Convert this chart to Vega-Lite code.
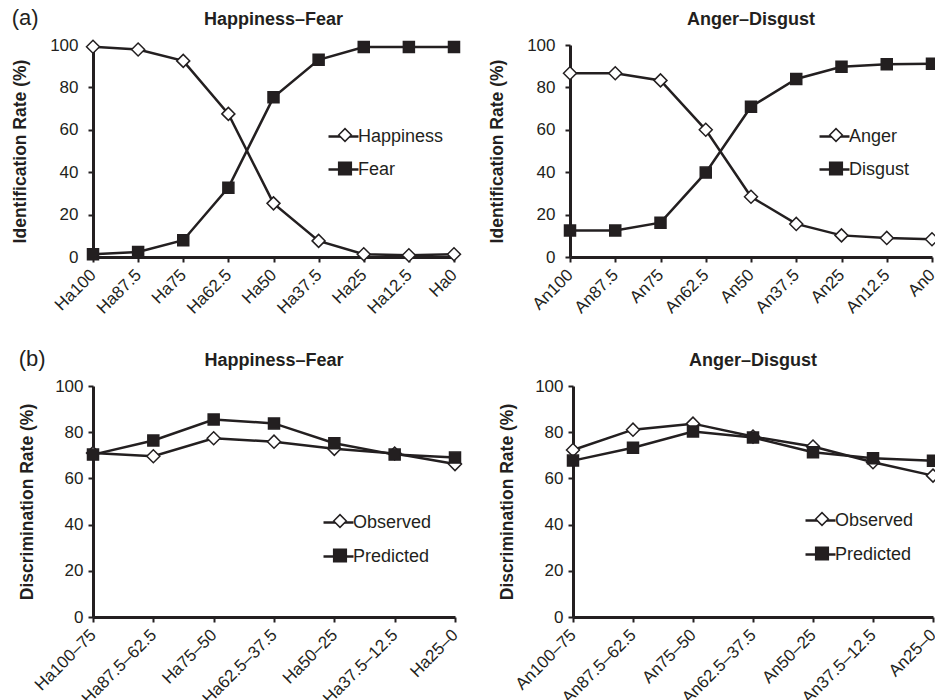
{
  "$schema": "https://vega.github.io/schema/vega-lite/v6.json",
  "background": "white",
  "padding": {"left": 11, "top": 7, "right": 0, "bottom": 0},
  "config": {
    "font": "Liberation Sans",
    "view": {"stroke": null},
    "title": {"font": "Liberation Sans", "fontSize": 18, "fontWeight": "bold", "color": "#231f20", "anchor": "middle", "baseline": "alphabetic", "offset": 7},
    "axis": {
      "grid": false,
      "domainColor": "#231f20", "domainWidth": 3,
      "tickColor": "#231f20", "tickWidth": 2, "tickSize": 5,
      "labelFont": "Liberation Sans", "labelFontSize": 17, "labelColor": "#231f20",
      "titleFont": "Liberation Sans", "titleFontSize": 17.5, "titleFontWeight": "bold", "titleColor": "#231f20"
    },
    "axisX": {"labelAngle": -45, "labelAlign": "right", "labelBaseline": "middle", "labelPadding": 10, "title": null},
    "axisY": {"values": [0, 20, 40, 60, 80, 100], "labelPadding": 10, "titlePadding": 20},
    "legend": {"labelFont": "Liberation Sans", "labelFontSize": 18, "labelColor": "#231f20", "padding": 0, "orient": "none", "title": null, "labelOffset": -2},
    "line": {"color": "#231f20", "strokeWidth": 2.5},
    "point": {"stroke": "#231f20", "strokeWidth": 1.5, "opacity": 1}
  },
  "datasets": {
    "hf": [
      {"cat": "Ha100", "series": "Happiness", "value": 99.2},
      {"cat": "Ha87.5", "series": "Happiness", "value": 97.9},
      {"cat": "Ha75", "series": "Happiness", "value": 92.5},
      {"cat": "Ha62.5", "series": "Happiness", "value": 67.5},
      {"cat": "Ha50", "series": "Happiness", "value": 25.3},
      {"cat": "Ha37.5", "series": "Happiness", "value": 7.6},
      {"cat": "Ha25", "series": "Happiness", "value": 1.3},
      {"cat": "Ha12.5", "series": "Happiness", "value": 0.8},
      {"cat": "Ha0", "series": "Happiness", "value": 1.3},
      {"cat": "Ha100", "series": "Fear", "value": 1.3},
      {"cat": "Ha87.5", "series": "Fear", "value": 2.4},
      {"cat": "Ha75", "series": "Fear", "value": 7.9},
      {"cat": "Ha62.5", "series": "Fear", "value": 32.7},
      {"cat": "Ha50", "series": "Fear", "value": 75.3},
      {"cat": "Ha37.5", "series": "Fear", "value": 93},
      {"cat": "Ha25", "series": "Fear", "value": 99},
      {"cat": "Ha12.5", "series": "Fear", "value": 99},
      {"cat": "Ha0", "series": "Fear", "value": 99}
    ],
    "ad": [
      {"cat": "An100", "series": "Anger", "value": 86.7},
      {"cat": "An87.5", "series": "Anger", "value": 86.7},
      {"cat": "An75", "series": "Anger", "value": 83.3},
      {"cat": "An62.5", "series": "Anger", "value": 60},
      {"cat": "An50", "series": "Anger", "value": 28.4},
      {"cat": "An37.5", "series": "Anger", "value": 15.6},
      {"cat": "An25", "series": "Anger", "value": 10.2},
      {"cat": "An12.5", "series": "Anger", "value": 9},
      {"cat": "An0", "series": "Anger", "value": 8.4},
      {"cat": "An100", "series": "Disgust", "value": 12.5},
      {"cat": "An87.5", "series": "Disgust", "value": 12.5},
      {"cat": "An75", "series": "Disgust", "value": 16.2},
      {"cat": "An62.5", "series": "Disgust", "value": 39.8},
      {"cat": "An50", "series": "Disgust", "value": 70.9},
      {"cat": "An37.5", "series": "Disgust", "value": 84},
      {"cat": "An25", "series": "Disgust", "value": 89.7},
      {"cat": "An12.5", "series": "Disgust", "value": 90.9},
      {"cat": "An0", "series": "Disgust", "value": 91.2}
    ],
    "hfd": [
      {"cat": "Ha100–75", "series": "Observed", "value": 71},
      {"cat": "Ha87.5–62.5", "series": "Observed", "value": 69.6},
      {"cat": "Ha75–50", "series": "Observed", "value": 77.4},
      {"cat": "Ha62.5–37.5", "series": "Observed", "value": 75.9},
      {"cat": "Ha50–25", "series": "Observed", "value": 72.8},
      {"cat": "Ha37.5–12.5", "series": "Observed", "value": 70.8},
      {"cat": "Ha25–0", "series": "Observed", "value": 66.2},
      {"cat": "Ha100–75", "series": "Predicted", "value": 70.3},
      {"cat": "Ha87.5–62.5", "series": "Predicted", "value": 76.4},
      {"cat": "Ha75–50", "series": "Predicted", "value": 85.5},
      {"cat": "Ha62.5–37.5", "series": "Predicted", "value": 83.8},
      {"cat": "Ha50–25", "series": "Predicted", "value": 75.2},
      {"cat": "Ha37.5–12.5", "series": "Predicted", "value": 70.3},
      {"cat": "Ha25–0", "series": "Predicted", "value": 69}
    ],
    "add": [
      {"cat": "An100–75", "series": "Observed", "value": 72.3},
      {"cat": "An87.5–62.5", "series": "Observed", "value": 81.1},
      {"cat": "An75–50", "series": "Observed", "value": 83.7},
      {"cat": "An62.5–37.5", "series": "Observed", "value": 78.1},
      {"cat": "An50–25", "series": "Observed", "value": 73.8},
      {"cat": "An37.5–12.5", "series": "Observed", "value": 67},
      {"cat": "An25–0", "series": "Observed", "value": 61.2},
      {"cat": "An100–75", "series": "Predicted", "value": 67.7},
      {"cat": "An87.5–62.5", "series": "Predicted", "value": 73.3},
      {"cat": "An75–50", "series": "Predicted", "value": 80.3},
      {"cat": "An62.5–37.5", "series": "Predicted", "value": 77.7},
      {"cat": "An50–25", "series": "Predicted", "value": 71.3},
      {"cat": "An37.5–12.5", "series": "Predicted", "value": 68.7},
      {"cat": "An25–0", "series": "Predicted", "value": 67.6}
    ]
  },
  "spacing": 31,
  "vconcat": [
    {
      "title": {"text": "(a)", "anchor": "start", "fontSize": 22, "fontWeight": "normal", "offset": -19},
      "spacing": 24,
      "resolve": {"scale": {"shape": "independent", "fill": "independent", "color": "independent"}, "legend": {"shape": "independent", "fill": "independent", "color": "independent"}},
      "hconcat": [
        {
          "title": "Happiness–Fear",
          "width": 361, "height": 212,
          "data": {"name": "hf"},
          "encoding": {
            "x": {"field": "cat", "type": "ordinal", "sort": null, "scale": {"type": "point", "padding": 0}},
            "y": {"field": "value", "type": "quantitative", "scale": {"domain": [0, 100], "nice": false}, "title": "Identification Rate (%)"}
          },
          "layer": [
            {"mark": {"type": "line"},
             "encoding": {"color": {"field": "series", "type": "nominal", "sort": null, "scale": {"range": ["#231f20", "#231f20"]},
               "legend": {"symbolType": "stroke", "symbolSize": 900, "symbolStrokeWidth": 2.5, "rowPadding": 7, "legendX": 234, "legendY": 75}}}},
            {"mark": {"type": "point", "filled": false, "stroke": "#231f20"},
             "encoding": {
               "shape": {"field": "series", "type": "nominal", "scale": {"domain": ["Happiness", "Fear"], "range": ["diamond", "square"]},
                 "legend": {"symbolSize": 160, "symbolStrokeWidth": 1.5, "rowPadding": 13.5, "labelOpacity": 0, "legendX": 243, "legendY": 81}},
               "fill": {"field": "series", "type": "nominal", "scale": {"domain": ["Happiness", "Fear"], "range": ["white", "#231f20"]},
                 "legend": {"symbolSize": 160, "symbolStrokeWidth": 1.5, "rowPadding": 13.5, "labelOpacity": 0, "legendX": 243, "legendY": 81}},
               "size": {"condition": {"test": "datum.series === 'Happiness'", "value": 169}, "value": 121}
             }}
          ]
        },
        {
          "title": "Anger–Disgust",
          "width": 362, "height": 212,
          "data": {"name": "ad"},
          "encoding": {
            "x": {"field": "cat", "type": "ordinal", "sort": null, "scale": {"type": "point", "padding": 0}},
            "y": {"field": "value", "type": "quantitative", "scale": {"domain": [0, 100], "nice": false}, "title": "Identification Rate (%)"}
          },
          "layer": [
            {"mark": {"type": "line"},
             "encoding": {"color": {"field": "series", "type": "nominal", "sort": null, "scale": {"range": ["#231f20", "#231f20"]},
               "legend": {"symbolType": "stroke", "symbolSize": 900, "symbolStrokeWidth": 2.5, "rowPadding": 7, "legendX": 248, "legendY": 75}}}},
            {"mark": {"type": "point", "filled": false, "stroke": "#231f20"},
             "encoding": {
               "shape": {"field": "series", "type": "nominal", "scale": {"domain": ["Anger", "Disgust"], "range": ["diamond", "square"]},
                 "legend": {"symbolSize": 160, "symbolStrokeWidth": 1.5, "rowPadding": 13.5, "labelOpacity": 0, "legendX": 257, "legendY": 81}},
               "fill": {"field": "series", "type": "nominal", "scale": {"domain": ["Anger", "Disgust"], "range": ["white", "#231f20"]},
                 "legend": {"symbolSize": 160, "symbolStrokeWidth": 1.5, "rowPadding": 13.5, "labelOpacity": 0, "legendX": 257, "legendY": 81}},
               "size": {"condition": {"test": "datum.series === 'Anger'", "value": 169}, "value": 121}
             }}
          ]
        }
      ]
    },
    {
      "title": {"text": "(b)", "anchor": "start", "fontSize": 22, "fontWeight": "normal", "offset": -19},
      "spacing": 33,
      "resolve": {"scale": {"shape": "independent", "fill": "independent", "color": "independent"}, "legend": {"shape": "independent", "fill": "independent", "color": "independent"}},
      "hconcat": [
        {
          "title": "Happiness–Fear",
          "width": 362, "height": 231,
          "data": {"name": "hfd"},
          "encoding": {
            "x": {"field": "cat", "type": "ordinal", "sort": null, "scale": {"type": "point", "padding": 0}},
            "y": {"field": "value", "type": "quantitative", "scale": {"domain": [0, 100], "nice": false}, "title": "Discrimination Rate (%)", "axis": {"labelPadding": 5, "titlePadding": 18}}
          },
          "layer": [
            {"mark": {"type": "line"},
             "encoding": {"color": {"field": "series", "type": "nominal", "sort": null, "scale": {"range": ["#231f20", "#231f20"]},
               "legend": {"symbolType": "stroke", "symbolSize": 900, "symbolStrokeWidth": 2.5, "rowPadding": 8, "legendX": 229, "legendY": 120}}}},
            {"mark": {"type": "point", "filled": false, "stroke": "#231f20"},
             "encoding": {
               "shape": {"field": "series", "type": "nominal", "scale": {"domain": ["Observed", "Predicted"], "range": ["diamond", "square"]},
                 "legend": {"symbolSize": 160, "symbolStrokeWidth": 1.5, "rowPadding": 14.5, "labelOpacity": 0, "legendX": 238, "legendY": 126}},
               "fill": {"field": "series", "type": "nominal", "scale": {"domain": ["Observed", "Predicted"], "range": ["white", "#231f20"]},
                 "legend": {"symbolSize": 160, "symbolStrokeWidth": 1.5, "rowPadding": 14.5, "labelOpacity": 0, "legendX": 238, "legendY": 126}},
               "size": {"condition": {"test": "datum.series === 'Observed'", "value": 169}, "value": 121}
             }}
          ]
        },
        {
          "title": "Anger–Disgust",
          "width": 360, "height": 231,
          "data": {"name": "add"},
          "encoding": {
            "x": {"field": "cat", "type": "ordinal", "sort": null, "scale": {"type": "point", "padding": 0}},
            "y": {"field": "value", "type": "quantitative", "scale": {"domain": [0, 100], "nice": false}, "title": "Discrimination Rate (%)", "axis": {"labelPadding": 5, "titlePadding": 18}}
          },
          "layer": [
            {"mark": {"type": "line"},
             "encoding": {"color": {"field": "series", "type": "nominal", "sort": null, "scale": {"range": ["#231f20", "#231f20"]},
               "legend": {"symbolType": "stroke", "symbolSize": 900, "symbolStrokeWidth": 2.5, "rowPadding": 8, "legendX": 231, "legendY": 118}}}},
            {"mark": {"type": "point", "filled": false, "stroke": "#231f20"},
             "encoding": {
               "shape": {"field": "series", "type": "nominal", "scale": {"domain": ["Observed", "Predicted"], "range": ["diamond", "square"]},
                 "legend": {"symbolSize": 160, "symbolStrokeWidth": 1.5, "rowPadding": 14.5, "labelOpacity": 0, "legendX": 240, "legendY": 124}},
               "fill": {"field": "series", "type": "nominal", "scale": {"domain": ["Observed", "Predicted"], "range": ["white", "#231f20"]},
                 "legend": {"symbolSize": 160, "symbolStrokeWidth": 1.5, "rowPadding": 14.5, "labelOpacity": 0, "legendX": 240, "legendY": 124}},
               "size": {"condition": {"test": "datum.series === 'Observed'", "value": 169}, "value": 121}
             }}
          ]
        }
      ]
    }
  ]
}
